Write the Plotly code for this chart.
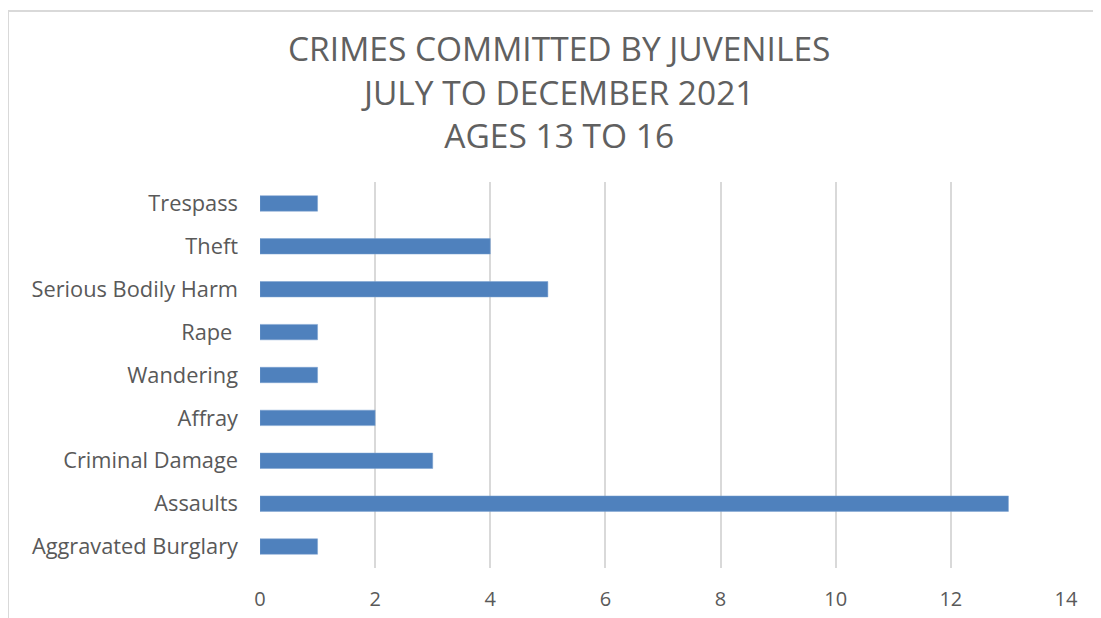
import plotly.graph_objects as go

categories = ["Aggravated Burglary", "Assaults", "Criminal Damage", "Affray",
              "Wandering", "Rape ", "Serious Bodily Harm", "Theft", "Trespass"]
values = [1, 13, 3, 2, 1, 1, 5, 4, 1]
x_ticks = [0, 2, 4, 6, 8, 10, 12, 14]
title_lines = ["CRIMES COMMITTED BY JUVENILES", "JULY TO DECEMBER 2021", "AGES 13 TO 16"]

OFF = 8  # page body margin
W, H = 1101 - OFF, 618 - OFF
# reference pixel geometry
REF_L, REF_R, REF_T, REF_B = 260, 1066, 181.5, 568.5
ML, MT = REF_L - OFF, REF_T - OFF
MR = W - (REF_R - OFF)
MB = H - (REF_B - OFF)
PW, PH = W - ML - MR, H - MT - MB

def px_x(px):
    return (px - OFF - ML) / PW

def px_y(py):
    return (H - MB - (py - OFF)) / PH

GRAY = "#595959"
FONT = "Open Sans"

fig = go.Figure(go.Bar(
    x=values, y=categories, orientation="h",
    marker=dict(color="#4f81bd", line=dict(color="#7aa0d0", width=0.5)),
    width=0.36,
))

annotations = [dict(
    text="<br>".join(title_lines), xref="paper", yref="paper",
    x=px_x(559), y=px_y(91), xanchor="center", yanchor="middle",
    align="center", showarrow=False,
    font=dict(family=FONT, size=33.5, color="#606060"),
)]

shapes = [
    dict(type="line", xref="paper", yref="paper", x0=px_x(8), x1=px_x(1110),
         y0=px_y(10), y1=px_y(10), line=dict(color="#d9d9d9", width=2)),
    dict(type="line", xref="paper", yref="paper", x0=px_x(8), x1=px_x(8),
         y0=px_y(10), y1=px_y(630), line=dict(color="#d9d9d9", width=2)),
]

fig.update_layout(
    width=W, height=H,
    margin=dict(l=ML, r=MR, t=MT, b=MB, autoexpand=False),
    paper_bgcolor="white", plot_bgcolor="white",
    showlegend=False,
    annotations=annotations,
    shapes=shapes,
    font=dict(family=FONT, color=GRAY, size=20),
    xaxis=dict(range=[0, 14], tickvals=x_ticks, showgrid=True, gridcolor="#d9d9d9",
               gridwidth=2, zeroline=False, showline=False, ticks="",
               tickfont=dict(family=FONT, size=20, color=GRAY), ticklabelstandoff=17),
    yaxis=dict(showgrid=False, zeroline=False, showline=False, ticks="",
               tickfont=dict(family=FONT, size=21.8, color=GRAY), ticklabelstandoff=21,
               categoryorder="array", categoryarray=categories),
    bargap=0.64,
)

fig.write_html("out.html")
